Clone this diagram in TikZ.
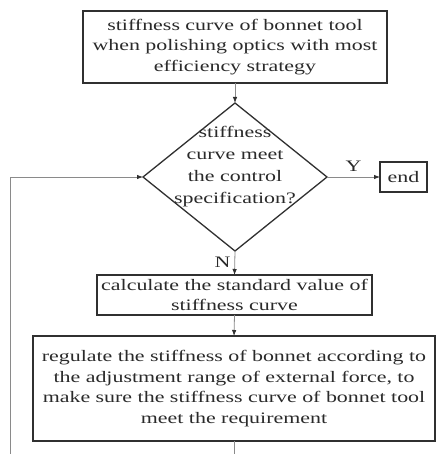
\documentclass[tikz,border=0pt]{standalone}
\usepackage{fontspec}
\setmainfont[FakeStretch=1.37]{Liberation Serif}
\usetikzlibrary{shapes.geometric,arrows.meta}
\definecolor{txt}{HTML}{2A2A2A}
\definecolor{boxc}{HTML}{303030}
\definecolor{linec}{HTML}{8A8A8A}
\begin{document}
\begin{tikzpicture}[x=1pt,y=-1pt,
  box/.style={draw=boxc,line width=1.3pt,align=center,inner sep=0pt,outer sep=0pt,text=txt,font=\fontsize{16}{20.5}\selectfont},
  dec/.style={diamond,draw=boxc,line width=1.3pt,inner sep=0pt,outer sep=0pt},
  conn/.style={draw=linec,line width=0.8pt,-{Latex[length=6pt,width=4.5pt,color=boxc]}},
  lbl/.style={text=txt,font=\fontsize{16}{20}\selectfont,inner sep=0pt}
]
\useasboundingbox (0,0) rectangle (436,454);
\fill[white] (0,0) rectangle (436,454);
\clip (0,0) rectangle (436,454);

\node[box,minimum width=304pt,minimum height=72pt] (top) at (235,47)
  {stiffness curve of bonnet tool\\when polishing optics with most\\efficiency strategy};
\node[dec,minimum width=184pt,minimum height=148pt] (d) at (235,177) {};
\node[align=center,text=txt,inner sep=0pt,font=\fontsize{16}{22}\selectfont] (dt) at (235,167)
  {stiffness\\curve meet\\the control\\specification?};
\node[box,minimum width=47pt,minimum height=30pt] (end) at (403.5,177) {end};
\node[box,minimum width=275pt,minimum height=40pt] (calc) at (234.5,295)
  {calculate the standard value of\\stiffness curve};
\node[box,minimum width=402pt,minimum height=105pt] (reg) at (234,388.5)
  {regulate the stiffness of bonnet according to\\the adjustment range of external force, to\\make sure the stiffness curve of bonnet tool\\meet the requirement};

\coordinate (lb) at (10,480);
\coordinate (lt) at (10,177);

\draw[conn] (top.south) -- (d.north);
\draw[conn] (d.east) -- node[lbl,above=5pt] (y) {Y} (end.west);
\draw[conn] (d.south) -- node[lbl,left=4pt,pos=0.45] (n) {N} (calc.north);
\draw[conn] (calc.south) -- (reg.north);
\draw[conn] (reg.south) |- (lb) -- (lt) -- (d.west);
\end{tikzpicture}
\end{document}
